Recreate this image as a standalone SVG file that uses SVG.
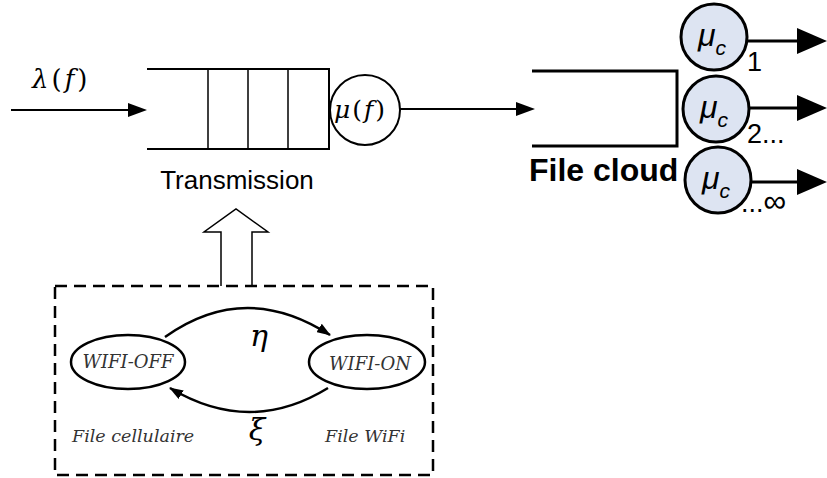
<svg xmlns="http://www.w3.org/2000/svg" width="827" height="478" viewBox="0 0 827 478">
  <defs>
    <marker id="arrowSmall" viewBox="0 0 14 10" refX="13" refY="5" markerWidth="14" markerHeight="10" markerUnits="userSpaceOnUse" orient="auto">
      <path d="M0,0 L14,5 L0,10 Z" fill="#000"/>
    </marker>
  </defs>
  <style>
    .line { stroke: #000; fill: none; }
    .math { font-family: "DejaVu Serif", "Liberation Serif", serif; fill: #000; }
    .state { font-family: "DejaVu Serif", "Liberation Serif", serif; font-style: italic; fill: #333; }
    .sans { font-family: "Liberation Sans", Arial, sans-serif; fill: #000; }
    .cloud-server { fill: #dde4f2; stroke: #000; stroke-width: 3; }
  </style>

  <rect width="827" height="478" fill="#fff"/>

  <!-- transmission queue -->
  <g id="transmission-queue">
    <path class="line" stroke-width="2" d="M147,69 H329 V149 H147"/>
    <path class="line" stroke-width="1.5" d="M208,69 V149 M248,69 V149 M288,69 V149"/>
    <circle cx="365" cy="110" r="35" fill="#fff" stroke="#000" stroke-width="2"/>
    <text class="math" x="334" y="118" font-size="25" letter-spacing="2"><tspan font-style="italic">μ</tspan>(<tspan font-style="italic">f</tspan>)</text>
    <text class="sans" x="237" y="189" font-size="26" text-anchor="middle" fill="#222">Transmission</text>
  </g>

  <!-- arrival rate label -->
  <g id="arrival">
    <text class="math" x="32" y="88" font-size="26" letter-spacing="3"><tspan font-style="italic">λ</tspan>(<tspan font-style="italic">f</tspan>)</text>
  </g>

  <!-- cloud queue -->
  <g id="cloud-queue">
    <path class="line" stroke-width="3" d="M532,71 H677 V146 H532"/>
    <text class="sans" x="529" y="181" font-size="32" font-weight="bold">File cloud</text>
  </g>

  <g id="server-1">
    <circle class="cloud-server" cx="714" cy="37" r="33"/>
    <text class="sans" x="698" y="46" font-size="32" font-style="italic">μ<tspan font-size="21" dy="9">c</tspan></text>
    <text class="sans" x="747" y="71" font-size="27">1</text>
  </g>
  <g id="server-2">
    <circle class="cloud-server" cx="716" cy="109" r="33"/>
    <text class="sans" x="700" y="118" font-size="32" font-style="italic">μ<tspan font-size="21" dy="9">c</tspan></text>
    <text class="sans" x="747" y="143" font-size="27">2...</text>
  </g>
  <g id="server-3">
    <circle class="cloud-server" cx="718" cy="180" r="33"/>
    <text class="sans" x="702" y="189" font-size="32" font-style="italic">μ<tspan font-size="21" dy="9">c</tspan></text>
    <text class="sans" x="741" y="212" font-size="27">...<tspan font-size="32">∞</tspan></text>
  </g>

  <!-- connectors -->
  <g id="connectors">
    <line class="line" stroke-width="2" x1="11" y1="110" x2="130" y2="110"/>
    <polygon points="128,103 147,110 128,117" fill="#000"/>

    <line class="line" stroke-width="2" x1="400" y1="109" x2="518" y2="109"/>
    <polygon points="516,102 535,109 516,116" fill="#000"/>

    <line class="line" stroke-width="3" x1="747" y1="41" x2="800" y2="41"/>
    <polygon points="797,28 827,41 797,54" fill="#000"/>
    <line class="line" stroke-width="3" x1="749" y1="108" x2="800" y2="108"/>
    <polygon points="797,95 827,108 797,121" fill="#000"/>
    <line class="line" stroke-width="3" x1="751" y1="182" x2="800" y2="182"/>
    <polygon points="797,169 827,182 797,195" fill="#000"/>

    <!-- hollow block arrow from the model up to the queue -->
    <path d="M221,286 V232 H204 L236,209 L268,232 H252 V286" fill="#fff" stroke="#000" stroke-width="1.5"/>

    <path class="line" stroke-width="2.5" d="M165,337 Q245,280 330,335" marker-end="url(#arrowSmall)"/>
    <path class="line" stroke-width="2.5" d="M328,388 Q250,436 170,388" marker-end="url(#arrowSmall)"/>
    <text class="math" x="259" y="346" font-size="30" font-style="italic" text-anchor="middle">η</text>
    <text class="math" x="257" y="440" font-size="30" font-style="italic" text-anchor="middle">ξ</text>
  </g>

  <!-- WiFi availability model -->
  <g id="wifi-model">
    <rect x="55" y="286" width="378" height="189" fill="none" stroke="#000" stroke-width="2.5" stroke-dasharray="12 7"/>
    <text class="state" x="72" y="442" font-size="17.5">File cellulaire</text>
    <text class="state" x="325" y="442" font-size="17.5">File WiFi</text>
  </g>
  <g id="wifi-off">
    <ellipse cx="128" cy="362" rx="57" ry="27" fill="#fff" stroke="#000" stroke-width="2.5"/>
    <text class="state" x="128" y="368" font-size="18" text-anchor="middle">WIFI-OFF</text>
  </g>
  <g id="wifi-on">
    <ellipse cx="367" cy="362" rx="58" ry="27" fill="#fff" stroke="#000" stroke-width="2.5"/>
    <text class="state" x="370" y="370" font-size="18" text-anchor="middle">WIFI-ON</text>
  </g>
</svg>
